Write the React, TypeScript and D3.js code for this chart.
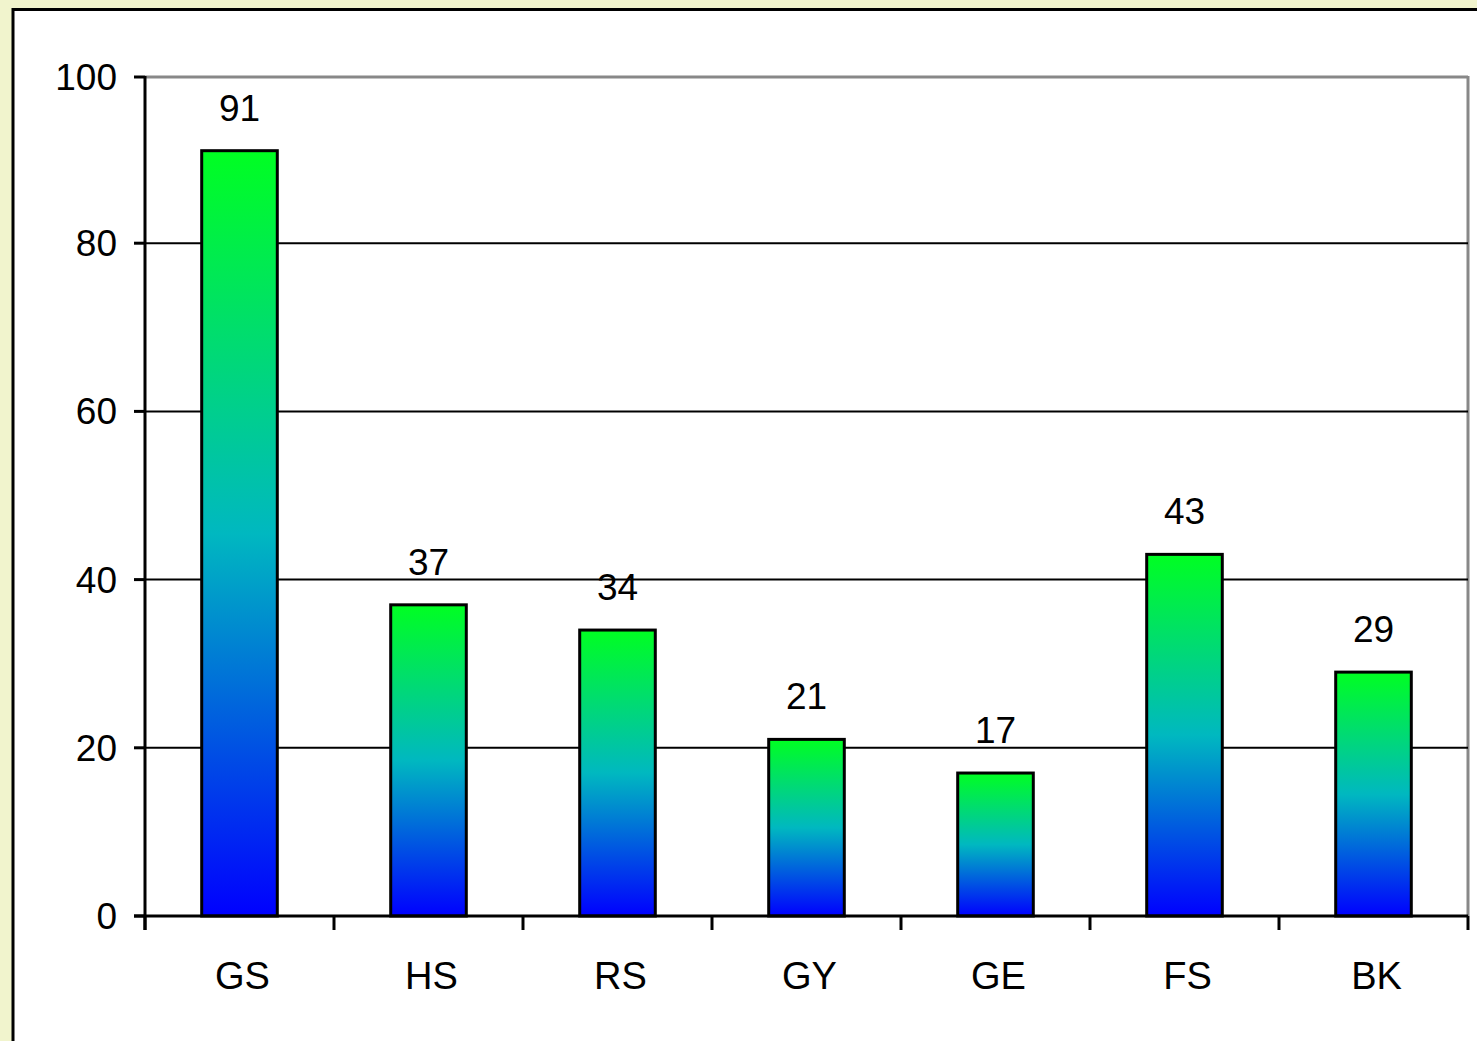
import React from "react";
import * as d3 from "d3";

const categories = ["GS", "HS", "RS", "GY", "GE", "FS", "BK"];
const values = [91, 37, 34, 21, 17, 43, 29];
const yTicks = [0, 20, 40, 60, 80, 100];

const W = 1477;
const H = 1041;
const left = 145;
const right = 1468;
const top = 75;
const bottom = 916;
const FONT = "'Liberation Sans', Arial, Helvetica, sans-serif";

export default function App() {
  const x = d3
    .scaleBand<string>()
    .domain(categories)
    .range([left, right])
    .paddingInner(0.6)
    .paddingOuter(0.3);
  const y = d3.scaleLinear().domain([0, 100]).range([bottom, top]);
  const step = x.step();
  const boundaries = d3.range(categories.length + 1).map((i) => left + i * step);

  return (
    <svg
      width={W}
      height={H}
      style={{ position: "absolute", left: 0, top: 0, display: "block" }}
      fontFamily={FONT}
    >
      <defs>
        <linearGradient id="barGrad" x1="0" y1="0" x2="0" y2="1">
          <stop offset="0%" stopColor="#00ff22" />
          <stop offset="50%" stopColor="#00b8c0" />
          <stop offset="100%" stopColor="#0000ff" />
        </linearGradient>
      </defs>
      <rect x={0} y={0} width={W} height={H} fill="#f1f4cd" />
      <rect x={13} y={9.5} width={W + 50} height={H + 50} fill="#ffffff" stroke="#000" strokeWidth={3} />

      {/* plot area border (gray) */}
      <line x1={left} x2={right} y1={top + 2} y2={top + 2} stroke="#888" strokeWidth={3} />
      <line x1={right} x2={right} y1={top + 1} y2={bottom} stroke="#888" strokeWidth={3} />

      {/* gridlines */}
      {yTicks
        .filter((t) => t > 0 && t < 100)
        .map((t) => (
          <line key={"g" + t} x1={left} x2={right} y1={y(t)} y2={y(t)} stroke="#000" strokeWidth={2} />
        ))}

      {/* bars */}
      {categories.map((c, i) => (
        <rect
          key={c}
          x={x(c)}
          y={y(values[i])}
          width={x.bandwidth()}
          height={y(0) - y(values[i])}
          fill="url(#barGrad)"
          stroke="#000"
          strokeWidth={3}
        />
      ))}

      {/* value labels */}
      {categories.map((c, i) => (
        <text
          key={"v" + c}
          x={(x(c) as number) + x.bandwidth() / 2}
          y={y(values[i]) - 30}
          textAnchor="middle"
          fontSize={37}
          fill="#000"
        >
          {values[i]}
        </text>
      ))}

      {/* y axis */}
      <line x1={left} x2={left} y1={top + 1} y2={bottom + 14} stroke="#000" strokeWidth={3} />
      {yTicks.map((t) => (
        <g key={"yt" + t}>
          <line x1={left - 11} x2={left} y1={y(t) + (t === 100 ? 2 : 0)} y2={y(t) + (t === 100 ? 2 : 0)} stroke="#000" strokeWidth={3} />
          <text x={117} y={y(t) + (t === 100 ? 2 : 0)} dy="0.35em" textAnchor="end" fontSize={37} fill="#000">
            {t}
          </text>
        </g>
      ))}

      {/* x axis */}
      <line x1={left - 11} x2={right} y1={bottom} y2={bottom} stroke="#000" strokeWidth={3} />
      {boundaries.map((b, i) => (
        <line key={"xt" + i} x1={b} x2={b} y1={bottom} y2={bottom + 14} stroke="#000" strokeWidth={3} />
      ))}
      {categories.map((c) => (
        <text
          key={"c" + c}
          x={(x(c) as number) + x.bandwidth() / 2 + 3}
          y={989}
          textAnchor="middle"
          fontSize={38}
          fill="#000"
        >
          {c}
        </text>
      ))}
    </svg>
  );
}
